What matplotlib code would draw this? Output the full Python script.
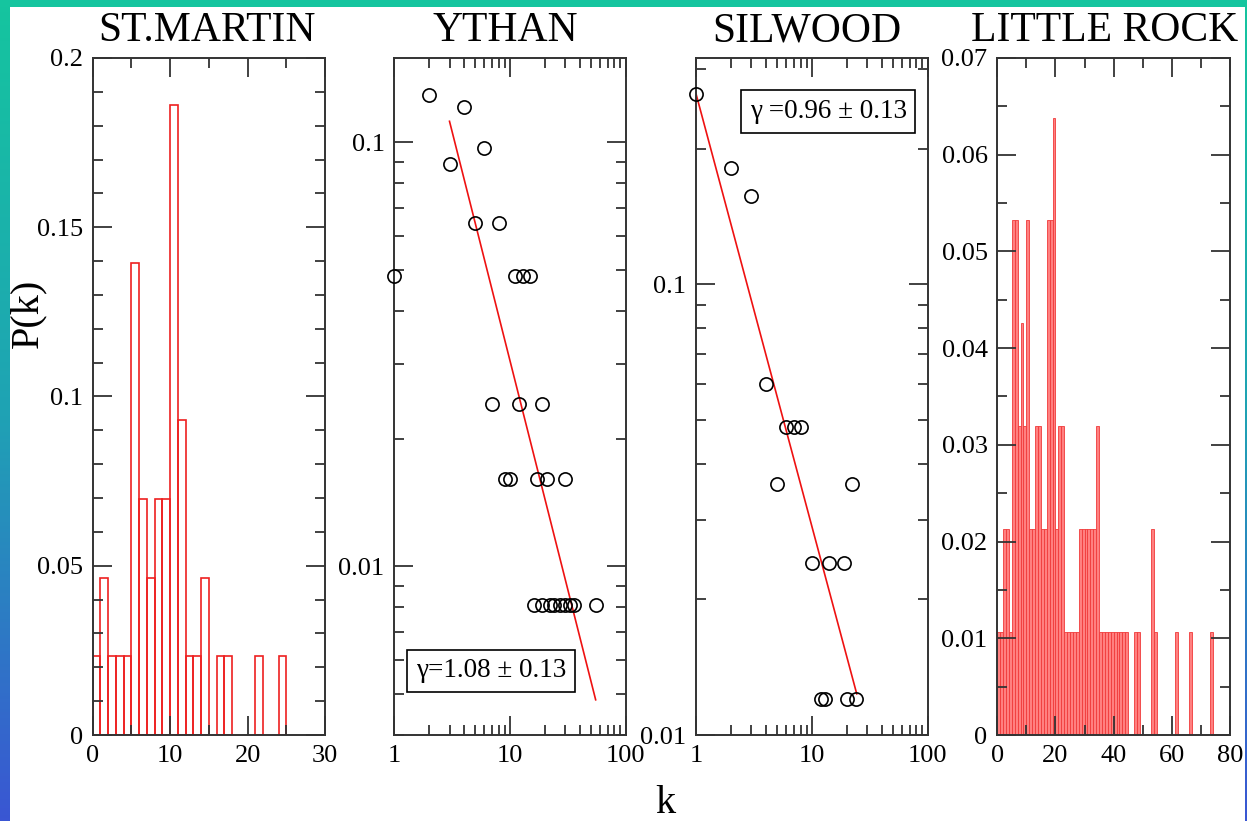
import numpy as np
import matplotlib
matplotlib.use('Agg')
import matplotlib.pyplot as plt
from matplotlib.colors import LinearSegmentedColormap
from matplotlib.ticker import MultipleLocator, FuncFormatter, LogLocator, NullFormatter

plt.rcParams['font.family'] = ['Liberation Serif', 'DejaVu Serif']

# --- data ---
# ST.MARTIN histogram (left bin edge k, P(k))
stm_k = [0, 1, 2, 3, 4, 5, 6, 7, 8, 9, 10, 11, 12, 13, 14, 16, 17, 21, 24]
stm_p = [0.0233, 0.0465, 0.0233, 0.0233, 0.0233, 0.1395, 0.0698, 0.0465, 0.0698, 0.0698,
         0.186, 0.093, 0.0233, 0.0233, 0.0465, 0.0233, 0.0233, 0.0233, 0.0233]

# YTHAN scatter
yth_k = [1, 2, 3, 4, 5, 6, 7, 8, 9, 10, 11, 12, 13, 15, 17, 19, 21, 30,
         16, 19, 22, 24, 27, 30, 33, 36, 55]
yth_p = [0.0484, 0.129, 0.0887, 0.121, 0.0645, 0.0968, 0.0242, 0.0645, 0.0161, 0.0161,
         0.0484, 0.0242, 0.0484, 0.0484, 0.0161, 0.0242, 0.0161, 0.0161,
         0.0081, 0.0081, 0.0081, 0.0081, 0.0081, 0.0081, 0.0081, 0.0081, 0.0081]
yth_fit = dict(A=0.367, gamma=1.08, kmin=3, kmax=55, label='γ=1.08 ± 0.13')

# SILWOOD scatter
sil_k = [1, 2, 3, 4, 5, 6, 7, 8, 10, 12, 13, 14, 19, 20, 22, 24]
sil_p = [0.265, 0.181, 0.157, 0.0602, 0.0361, 0.0482, 0.0482, 0.0482, 0.0241, 0.012,
         0.012, 0.0241, 0.0241, 0.012, 0.0361, 0.012]
sil_fit = dict(A=0.265, gamma=0.96, kmin=1, kmax=24.4, label='γ =0.96 ± 0.13')

# LITTLE ROCK histogram (left bin edge k, P(k))
lr_k = [0, 1, 2, 3, 4, 5, 6, 7, 8, 9, 10, 11, 12, 13, 14, 15, 16, 17, 18, 19, 20, 21, 22,
        23, 24, 25, 26, 27, 28, 29, 30, 31, 32, 33, 34, 35, 36, 37, 38, 39, 40, 41, 42,
        43, 44, 47, 48, 53, 54, 61, 66, 73]
lr_p = [0.0106, 0.0106, 0.0213, 0.0213, 0.0106, 0.0532, 0.0532, 0.0319, 0.0426, 0.0319,
        0.0532, 0.0213, 0.0213, 0.0319, 0.0319, 0.0213, 0.0213, 0.0532, 0.0532, 0.0638,
        0.0213, 0.0319, 0.0319,
        0.0106, 0.0106, 0.0106, 0.0106, 0.0106, 0.0213, 0.0213, 0.0213, 0.0213, 0.0213,
        0.0213, 0.0319, 0.0106, 0.0106, 0.0106, 0.0106, 0.0106, 0.0106, 0.0106, 0.0106,
        0.0106, 0.0106, 0.0106, 0.0106, 0.0213, 0.0106, 0.0106, 0.0106, 0.0106]

W, H = 1247, 821
fig = plt.figure(figsize=(W / 100, H / 100), dpi=100)


def px_axes(x0, x1, y0, y1, **kw):
    # pixel box measured from the top-left corner of the picture
    return fig.add_axes([x0 / W, (H - y1) / H, (x1 - x0) / W, (y1 - y0) / H], **kw)


# gradient frame around the slide
cmap = LinearSegmentedColormap.from_list('edge', ['#15c59f', '#1fa3b4', '#3a56d3'])
grad = np.linspace(0, 1, 256).reshape(-1, 1)
for box in [(0, 10, 0, H), (W - 2, W, 0, H)]:
    a = px_axes(*box)
    a.imshow(grad, cmap=cmap, aspect='auto')
    a.axis('off')
top = px_axes(0, W, 0, 7)
top.set_facecolor('#15c59f')
top.set_xticks([]); top.set_yticks([])
for s in top.spines.values():
    s.set_visible(False)

fmt = FuncFormatter(lambda v, pos: f'{v:g}')


def style(ax, title, tx=0.49):
    for s in ax.spines.values():
        s.set_linewidth(1.4)
        s.set_color('#333333')
    ax.tick_params(which='both', direction='in', top=True, right=True,
                   color='#333333', labelsize=19)
    ax.tick_params(which='major', length=13.5, width=1.3, pad=7)
    ax.tick_params(which='minor', length=7.5, width=1.3)
    ax.set_title(title, fontsize=30, pad=12, x=tx)


# ST.MARTIN
ax1 = px_axes(92.7, 325, 58, 735)
ax1.bar(stm_k, stm_p, width=1, align='edge', fill=False, edgecolor='#ee2020', linewidth=1.2)
ax1.set_xlim(0, 30)
ax1.set_ylim(0, 0.2)
ax1.xaxis.set_major_locator(MultipleLocator(10))
ax1.xaxis.set_minor_locator(MultipleLocator(5))
ax1.yaxis.set_major_locator(MultipleLocator(0.05))
ax1.yaxis.set_minor_locator(MultipleLocator(0.01))
ax1.xaxis.set_major_formatter(fmt)
ax1.yaxis.set_major_formatter(fmt)
style(ax1, 'ST.MARTIN')


def loglog_panel(box, ks, ps, fit, ylim, title, txt_xy):
    ax = px_axes(*box)
    ax.set_xscale('log')
    ax.set_yscale('log')
    ax.plot(ks, ps, 'o', mfc='none', mec='black', ms=9.5, mew=1.2, clip_on=False, zorder=3)
    kk = np.array([fit['kmin'], fit['kmax']], dtype=float)
    ax.plot(kk, fit['A'] * kk ** -fit['gamma'], color='#ee1111', lw=1.2)
    ax.set_xlim(1, 100)
    ax.set_ylim(*ylim)
    for axis in (ax.xaxis, ax.yaxis):
        axis.set_major_locator(LogLocator(base=10))
        axis.set_minor_locator(LogLocator(base=10, subs=np.arange(2, 10)))
        axis.set_major_formatter(fmt)
        axis.set_minor_formatter(NullFormatter())
    ax.text(txt_xy[0], txt_xy[1], fit['label'], transform=ax.transAxes, fontsize=19.5,
            ha='center', va='center',
            bbox=dict(boxstyle='square,pad=0.32', fc='white', ec='black', lw=1.2))
    style(ax, title, 0.48)
    return ax


loglog_panel((394.3, 625.7, 58, 735), yth_k, yth_p, yth_fit, (0.004, 0.158), 'YTHAN', (0.418, 0.095))
loglog_panel((696, 927.7, 58, 735), sil_k, sil_p, sil_fit, (0.01, 0.318), 'SILWOOD', (0.571, 0.921))

# LITTLE ROCK
ax4 = px_axes(997.3, 1230, 58, 735)
ax4.bar(lr_k, lr_p, width=1, align='edge', color='#ff8080', edgecolor='#f03a3a', linewidth=0.6)
ax4.set_xlim(0, 80)
ax4.set_ylim(0, 0.07)
ax4.xaxis.set_major_locator(MultipleLocator(20))
ax4.xaxis.set_minor_locator(MultipleLocator(10))
ax4.yaxis.set_major_locator(MultipleLocator(0.01))
ax4.yaxis.set_minor_locator(MultipleLocator(0.005))
ax4.xaxis.set_major_formatter(fmt)
ax4.yaxis.set_major_formatter(fmt)
style(ax4, 'LITTLE ROCK', 0.46)

fig.text(28 / W, (H - 313) / H, 'P(k)', rotation=90, ha='center', va='center', fontsize=29)
fig.text(665 / W, (H - 813) / H, 'k', ha='center', va='baseline', fontsize=29)

fig.savefig('out.png', dpi=100)
